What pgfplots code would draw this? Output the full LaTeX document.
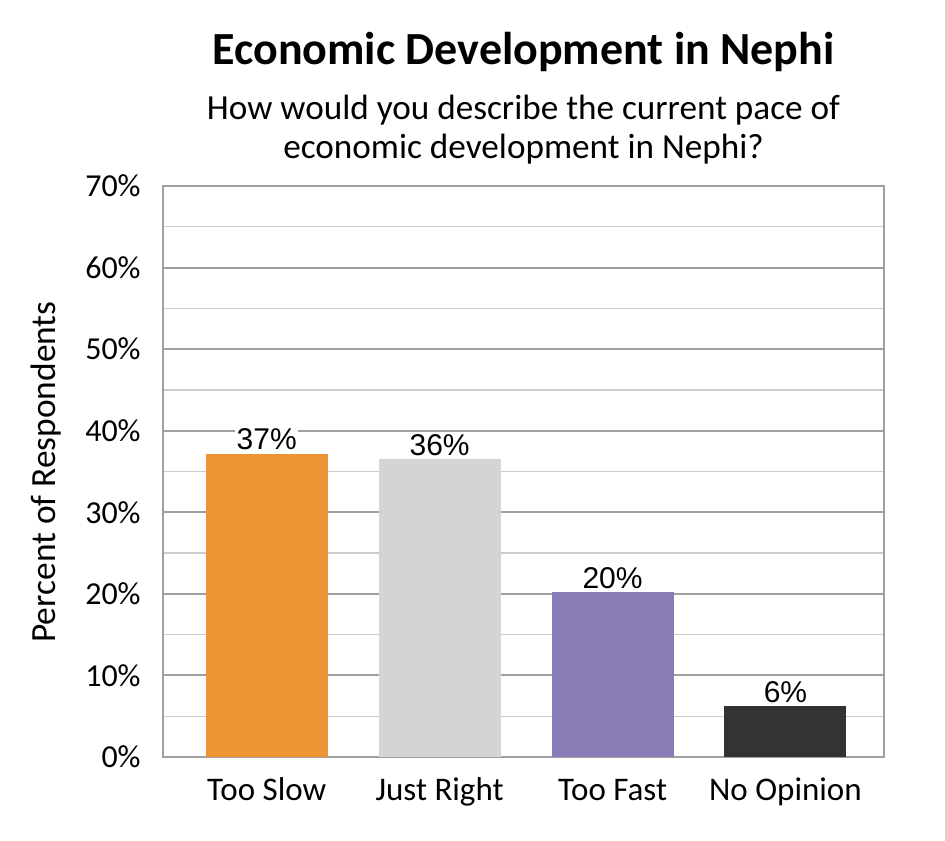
\documentclass[border=0pt]{standalone}
\usepackage{pgfplots}
\pgfplotsset{compat=1.18}
\usepackage{fontspec}
\setmainfont{Carlito}
\newfontfamily\labfont{Liberation Sans}

\definecolor{slowc}{RGB}{237,149,52}
\definecolor{rightc}{RGB}{212,212,212}
\definecolor{fastc}{RGB}{137,123,182}
\definecolor{noopc}{RGB}{51,51,51}
\definecolor{majgrid}{RGB}{160,160,160}
\definecolor{mingrid}{RGB}{204,204,204}

\begin{document}
\begin{tikzpicture}
% 1 px of the reference = 0.5pt
\path (0,0) rectangle (472.5pt,420pt);

\node[anchor=base, font=\fontsize{23}{27}\selectfont\bfseries] at (261.75pt,387.5pt) {Economic Development in Nephi};
\node[anchor=base, font=\fontsize{17.6}{21}\selectfont] at (261.75pt,360pt) {How would you describe the current pace of};
\node[anchor=base, font=\fontsize{17.6}{21}\selectfont] at (261.75pt,340.5pt) {economic development in Nephi?};
\node[rotate=90, font=\fontsize{17.7}{21}\selectfont] at (23pt,184pt) {Percent of Respondents};

\begin{axis}[
    at={(81.5pt,41.5pt)}, anchor=south west,
    scale only axis,
    width=360.5pt, height=285.5pt,
    ymin=0, ymax=70,
    xmin=-0.6, xmax=3.57,
    xtick={0,1,2,3},
    xticklabels={Too Slow,Just Right,Too Fast,No Opinion},
    ytick={0,10,20,30,40,50,60,70},
    yticklabels={0\%,10\%,20\%,30\%,40\%,50\%,60\%,70\%},
    minor y tick num=1,
    major tick length=0pt, minor tick length=0pt,
    xticklabel style={font=\rmfamily\fontsize{16.5}{19}\selectfont, anchor=base, inner sep=0pt, yshift=-21.5pt},
    yticklabel style={font=\rmfamily\fontsize{16}{19}\selectfont, anchor=east, inner sep=0pt, xshift=-11pt},
    ymajorgrids, yminorgrids,
    major grid style={majgrid, line width=1pt},
    minor grid style={mingrid, line width=0.6pt},
    axis line style={majgrid, line width=1pt},
    ybar, bar width=61pt, bar shift=0pt,
    point meta=explicit symbolic,
    nodes near coords={\pgfplotspointmeta\%},
    nodes near coords style={font=\labfont\fontsize{15}{17}\selectfont, anchor=base, inner sep=0.8pt, fill=white, yshift=2pt, text=black},
]
\addplot[fill=slowc, draw=none] coordinates {(0,37.2) [37]};
\addplot[fill=rightc, draw=none] coordinates {(1,36.5) [36]};
\addplot[fill=fastc, draw=none] coordinates {(2,20.2) [20]};
\addplot[fill=noopc, draw=none] coordinates {(3,6.2) [6]};
\end{axis}
\end{tikzpicture}
\end{document}
